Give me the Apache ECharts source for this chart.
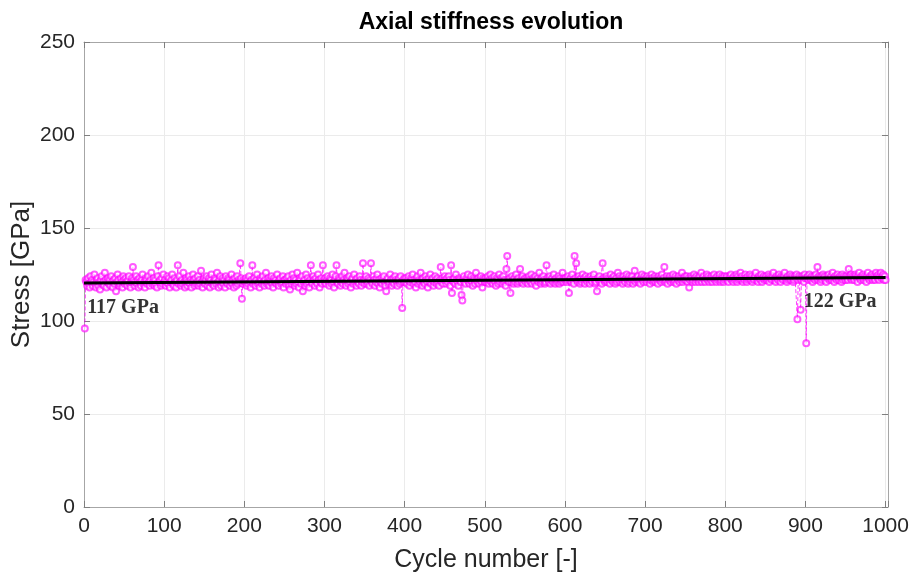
<!DOCTYPE html>
<html>
<head>
<meta charset="utf-8">
<script src="https://cdn.jsdelivr.net/npm/echarts@6/dist/echarts.min.js"></script>
<style>html,body{margin:0;padding:0;background:#fff;}#chart{width:914px;height:575px;}</style>
</head>
<body>
<div id="chart"></div>
<script>
// Axial stiffness per cycle (GPa), cycles 1..1000
var stiffness = [
96,122,121,119,123,120,118,124,121,122,119,121,125,120,118,122,123,119,121,117,
122,124,120,121,119,126,122,118,121,123,120,122,119,124,121,118,122,120,123,116,
121,125,122,119,120,123,121,118,124,122,
120,123,121,119,122,124,120,118,121,123,129,122,119,121,124,120,122,118,123,121,
119,122,125,120,121,118,123,122,120,124,121,119,122,126,120,121,123,119,122,120,
118,124,130,121,122,119,123,120,125,121,
122,119,121,124,120,123,118,121,122,125,120,119,123,121,118,122,130,120,124,121,
119,122,120,126,121,118,123,122,119,121,124,120,122,118,121,125,122,119,123,120,
121,124,119,122,120,127,121,118,122,123,
120,122,124,119,121,123,118,122,125,120,121,119,123,122,120,126,121,118,122,124,
119,121,123,120,122,118,124,121,120,123,122,119,121,125,120,122,118,123,121,119,
124,120,122,121,131,123,112,120,122,121,
121,123,119,122,120,124,121,118,122,130,120,123,121,119,122,125,120,121,118,123,
122,120,124,121,119,122,126,120,121,123,119,122,121,124,120,118,123,121,122,120,
125,121,119,122,123,120,121,124,118,122,
122,120,123,121,124,119,117,122,120,125,121,123,119,122,120,126,121,118,123,122,
120,124,116,121,122,119,125,120,123,121,118,122,130,121,120,124,122,119,123,121,
120,125,122,118,121,123,120,130,122,121,
123,120,122,124,121,119,123,122,120,125,121,118,122,124,130,121,120,123,122,119,
121,124,120,122,126,121,119,123,122,120,124,121,118,122,123,120,125,121,122,119,
123,121,120,124,122,119,121,131,122,120,
122,124,120,121,123,119,122,131,121,120,124,122,119,121,123,125,120,122,118,121,
123,120,122,124,121,119,116,122,123,120,121,125,122,119,121,123,120,124,122,121,
119,122,123,120,124,121,107,122,121,123,
121,123,120,122,124,119,121,123,122,125,120,122,121,118,123,124,120,122,121,126,
122,119,123,121,120,124,122,121,118,123,121,125,120,122,123,119,121,124,122,120,
123,121,119,122,129,121,123,120,122,124,
122,120,123,121,124,122,119,130,115,122,121,123,120,125,122,121,119,123,122,121,
114,111,122,124,121,120,123,122,125,121,120,122,124,121,119,123,122,120,126,122,
121,123,120,122,124,121,118,123,122,121,
123,121,122,124,120,122,125,121,123,120,122,124,121,119,123,122,120,125,121,123,
122,120,124,121,122,119,128,135,122,121,123,115,121,124,122,120,123,121,125,122,
120,123,121,128,122,121,124,120,122,123,
121,123,122,120,124,122,121,125,120,123,122,121,124,119,122,123,121,126,122,120,
123,121,124,122,120,121,130,123,122,121,124,120,122,123,121,125,122,120,123,121,
122,124,120,123,121,122,126,121,123,122,
123,121,122,124,115,122,123,121,125,122,120,135,123,131,122,121,124,122,120,123,
121,125,122,123,120,124,122,121,123,122,120,124,122,121,123,125,122,120,121,116,
123,122,124,121,122,120,131,123,122,121,
122,124,121,123,122,120,125,122,123,121,124,122,120,123,121,126,122,124,121,123,
122,120,124,122,121,123,125,122,120,124,121,123,122,124,120,122,127,121,123,122,
124,121,122,120,123,125,122,121,124,122,
123,121,124,122,123,120,122,125,123,121,122,124,121,123,122,120,124,122,123,121,
125,122,123,129,121,122,124,120,123,122,124,121,123,122,125,121,122,124,120,123,
122,124,121,123,122,126,121,123,122,124,
122,124,121,123,118,122,124,123,121,122,125,123,121,124,122,123,121,124,122,126,
121,123,124,122,121,123,125,122,124,121,123,122,124,121,123,125,122,123,121,124,
122,123,125,121,122,124,123,121,124,122,
123,124,122,121,124,123,125,122,123,121,124,122,123,125,121,124,122,123,126,122,
124,121,123,122,125,123,121,124,122,123,125,122,124,121,123,122,124,126,122,123,
121,124,123,122,125,121,123,124,122,123,
124,122,123,125,121,124,123,122,124,126,122,123,121,124,123,122,125,123,121,124,
123,122,124,126,122,123,121,124,122,123,125,122,124,123,121,122,124,123,125,101,
122,124,123,106,122,124,123,121,125,123,
88,123,124,122,125,123,122,124,121,123,124,122,125,123,129,122,124,123,121,124,
122,125,123,124,122,121,124,123,125,122,123,124,122,126,123,121,124,123,122,125,
123,122,124,123,121,125,122,124,123,122,
124,123,122,128,124,123,125,122,124,123,122,125,124,123,121,124,126,123,122,124,
123,125,122,124,123,121,124,126,123,122,124,123,125,122,124,123,122,126,124,123,
125,122,124,126,123,124,125,122,124,122
];
// Linear trend (black line) end points
var trendCycles = [0, 1000];
var trendValues = [120.4, 123.4];
// Annotations
var annoText = ['117 GPa', '122 GPa'];
var annoCycle = [4, 898];
var annoValue = [107, 110.5];

var pts = stiffness.map(function (v, i) { return [i + 1, v]; });
var trend = trendCycles.map(function (c, i) { return [c, trendValues[i]]; });
var annos = annoText.map(function (t, i) { return { name: t, value: [annoCycle[i], annoValue[i]] }; });

var FONT = '"Liberation Sans", Arial, Helvetica, sans-serif';
var TXT = '#262626';
var AX = '#a6a6a6';
var chart = echarts.init(document.getElementById('chart'), null, { renderer: 'canvas' });

function axisCommon(extra) {
  var o = {
    type: 'value',
    axisLine: { show: true, onZero: false, lineStyle: { color: AX, width: 1 } },
    axisTick: { show: true, inside: true, length: 6, lineStyle: { color: '#7f7f7f', width: 1 } },
    splitLine: { show: false },
    axisLabel: { show: false }
  };
  for (var k in extra) o[k] = extra[k];
  return o;
}

chart.setOption({
  animation: false,
  backgroundColor: '#ffffff',
  title: {
    text: 'Axial stiffness evolution',
    left: 486, top: 6, textAlign: 'center',
    textStyle: { fontFamily: FONT, fontWeight: 'bold', fontSize: 23, color: '#000' }
  },
  grid: { left: 84, right: 26, top: 42, bottom: 68, containLabel: false, outerBoundsMode: 'none' },
  xAxis: [
    axisCommon({
      min: 0, max: 1003, interval: 100, position: 'bottom',
      name: 'Cycle number [-]', nameLocation: 'middle', nameGap: 41, nameMoveOverlap: false,
      nameTextStyle: { fontFamily: FONT, fontSize: 25, color: TXT },
      splitLine: { show: true, lineStyle: { color: '#ebebeb', width: 1 } },
      axisLabel: { show: true, fontFamily: FONT, fontSize: 21, color: TXT, margin: 9,
        formatter: function (v) { return v % 100 === 0 ? String(v) : ''; } }
    }),
    axisCommon({ min: 0, max: 1003, interval: 100, position: 'top' })
  ],
  yAxis: [
    axisCommon({
      min: 0, max: 250, interval: 50, position: 'left',
      name: 'Stress [GPa]', nameLocation: 'middle', nameGap: 49, nameRotate: 90, nameMoveOverlap: false,
      nameTextStyle: { fontFamily: FONT, fontSize: 26, color: TXT },
      splitLine: { show: true, lineStyle: { color: '#ebebeb', width: 1 } },
      axisLabel: { show: true, fontFamily: FONT, fontSize: 21, color: TXT, margin: 9 }
    }),
    axisCommon({ min: 0, max: 250, interval: 50, position: 'right' })
  ],
  series: [
    {
      type: 'line', data: pts, xAxisIndex: 0, yAxisIndex: 0,
      symbol: 'emptyCircle', symbolSize: 6, showSymbol: true,
      itemStyle: { color: '#ff00ff', borderColor: '#ff00ff', borderWidth: 0.9, opacity: 0.65 },
      lineStyle: { color: '#ff00ff', width: 1, type: 'dashed', opacity: 0.75 },
      z: 2
    },
    {
      type: 'line', data: trend, symbol: 'none',
      lineStyle: { color: '#000000', width: 3 }, z: 3
    },
    {
      type: 'scatter', data: annos, symbolSize: 0, z: 4,
      label: { show: true, position: 'right', distance: 0, formatter: '{b}',
        fontFamily: '"Liberation Serif", "Times New Roman", serif', fontWeight: 'bold', fontSize: 20, color: '#000' }
    }
  ]
});
</script>
</body>
</html>
